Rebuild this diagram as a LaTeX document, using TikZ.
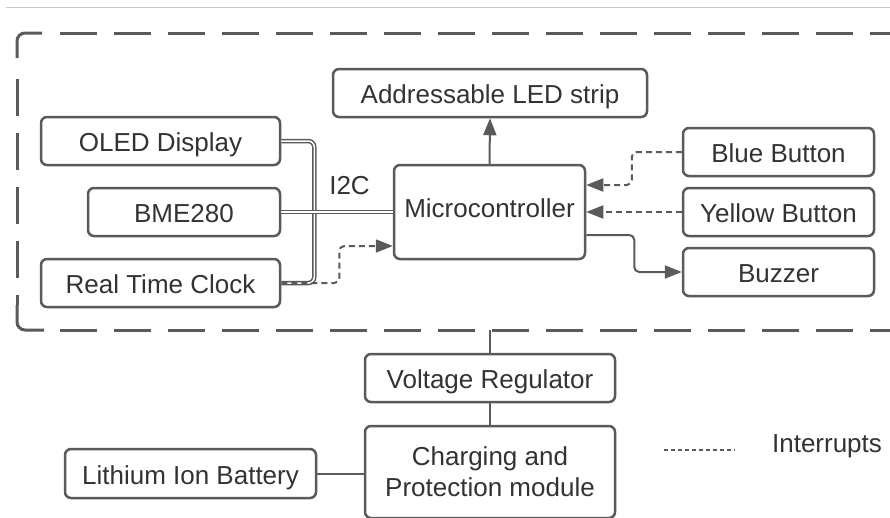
\documentclass[tikz,border=0pt]{standalone}
\usepackage{fontspec}
\setmainfont{Liberation Sans}
\usetikzlibrary{arrows.meta,calc}
\definecolor{ln}{HTML}{5A5A5A}
\definecolor{tx}{HTML}{333333}
\begin{document}
\begin{tikzpicture}[x=1pt,y=-1pt,
 blk/.style={draw=ln, line width=2.5pt, rounded corners=6pt, text=tx, font=\fontsize{26}{31}\selectfont, inner sep=0pt, align=center, text height=24pt, text depth=3pt},
 conn/.style={draw=ln, line width=2pt, rounded corners=5pt},
 arr/.style={-{Triangle[length=17pt,width=13pt,fill=ln]}},
 dsh/.style={dash pattern=on 6pt off 4pt},
 i2c/.style={draw=ln, line width=1.5pt, double=white, double distance=1.5pt, rounded corners=6pt},
 frame/.style={draw=ln, line width=3pt},
 fdash/.style={frame, dash pattern=on 37pt off 17pt}]
\useasboundingbox (0,0) rectangle (890,517);
\fill[white] (0,0) rectangle (890,517);
% top rule
\draw[gray!45, line width=1pt] (6,7) -- (890,7);
% dashed frame
\draw[frame, rounded corners=8pt] (17,58) -- (17,33) -- (42,33);
\draw[fdash] (60,33) -- (900,33);
\draw[fdash] (17,79) -- (17,305);
\draw[frame, rounded corners=8pt] (17,305) -- (17,330) -- (44,330);
\draw[fdash] (60,330) -- (900,330);
% nodes
\node[blk, minimum width=314pt, minimum height=48pt] (led) at (490,93) {Addressable LED strip};
\node[blk, minimum width=239pt, minimum height=48pt] (oled) at (160.5,141) {OLED Display};
\node[blk, minimum width=192pt, minimum height=48pt] (bme) at (184,212) {BME280};
\node[blk, minimum width=239pt, minimum height=48pt] (rtc) at (160.5,283) {Real Time Clock};
\node[blk, minimum width=191pt, minimum height=94pt, text depth=14pt] (mc) at (489.5,212) {Microcontroller};
\node[blk, minimum width=191pt, minimum height=48pt] (bb) at (778.5,152) {Blue Button};
\node[blk, minimum width=191pt, minimum height=48pt] (yb) at (778.5,212) {Yellow Button};
\node[blk, minimum width=191pt, minimum height=48pt] (bz) at (778.5,272) {Buzzer};
\node[blk, minimum width=250pt, minimum height=48pt] (vr) at (490,378) {Voltage Regulator};
\node[blk, minimum width=250pt, minimum height=92pt, text height=, text depth=] (cpm) at (490,472) {Charging and\\Protection module};
\node[blk, minimum width=251pt, minimum height=49pt] (bat) at (190.5,473.5) {Lithium Ion Battery};
\node[text=tx, font=\fontsize{26}{31}\selectfont, inner sep=0pt] (i2clbl) at (349.5,185.5) {I2C};
\node[text=tx, font=\fontsize{26}{31}\selectfont, inner sep=0pt] (legtxt) at (827,446) {Interrupts};
\coordinate (pw) at (490,330);
\coordinate (l1) at (664,450);
\coordinate (l2) at (735,450);
% I2C bus
\draw[i2c] (oled.east) -- ++(33,0) |- (rtc.east);
\draw[i2c] (bme.east) -- (mc.west);
% interrupts
\draw[conn, dsh, arr] (rtc.east) -- ++(58,0) |- ($(mc.west)+(0,34)$);
\draw[conn, dsh, arr] (bb.west) -- ++(-50,0) |- ($(mc.east)+(0,-27)$);
\draw[conn, dsh, arr] (yb.west) -- (mc.east);
% outputs
\draw[conn, arr] (mc.north) -- (led.south);
\draw[conn, arr] ($(mc.east)+(0,23)$) -- ++(48,0) |- (bz.west);
% power
\draw[conn] (pw) -- (vr.north);
\draw[conn] (vr.south) -- (cpm.north);
\draw[conn] (bat.east) -- (bat.east -| cpm.west);
% legend
\draw[draw=ln, line width=1.3pt, dash pattern=on 4pt off 3pt] (l1) -- (l2);
\end{tikzpicture}
\end{document}
